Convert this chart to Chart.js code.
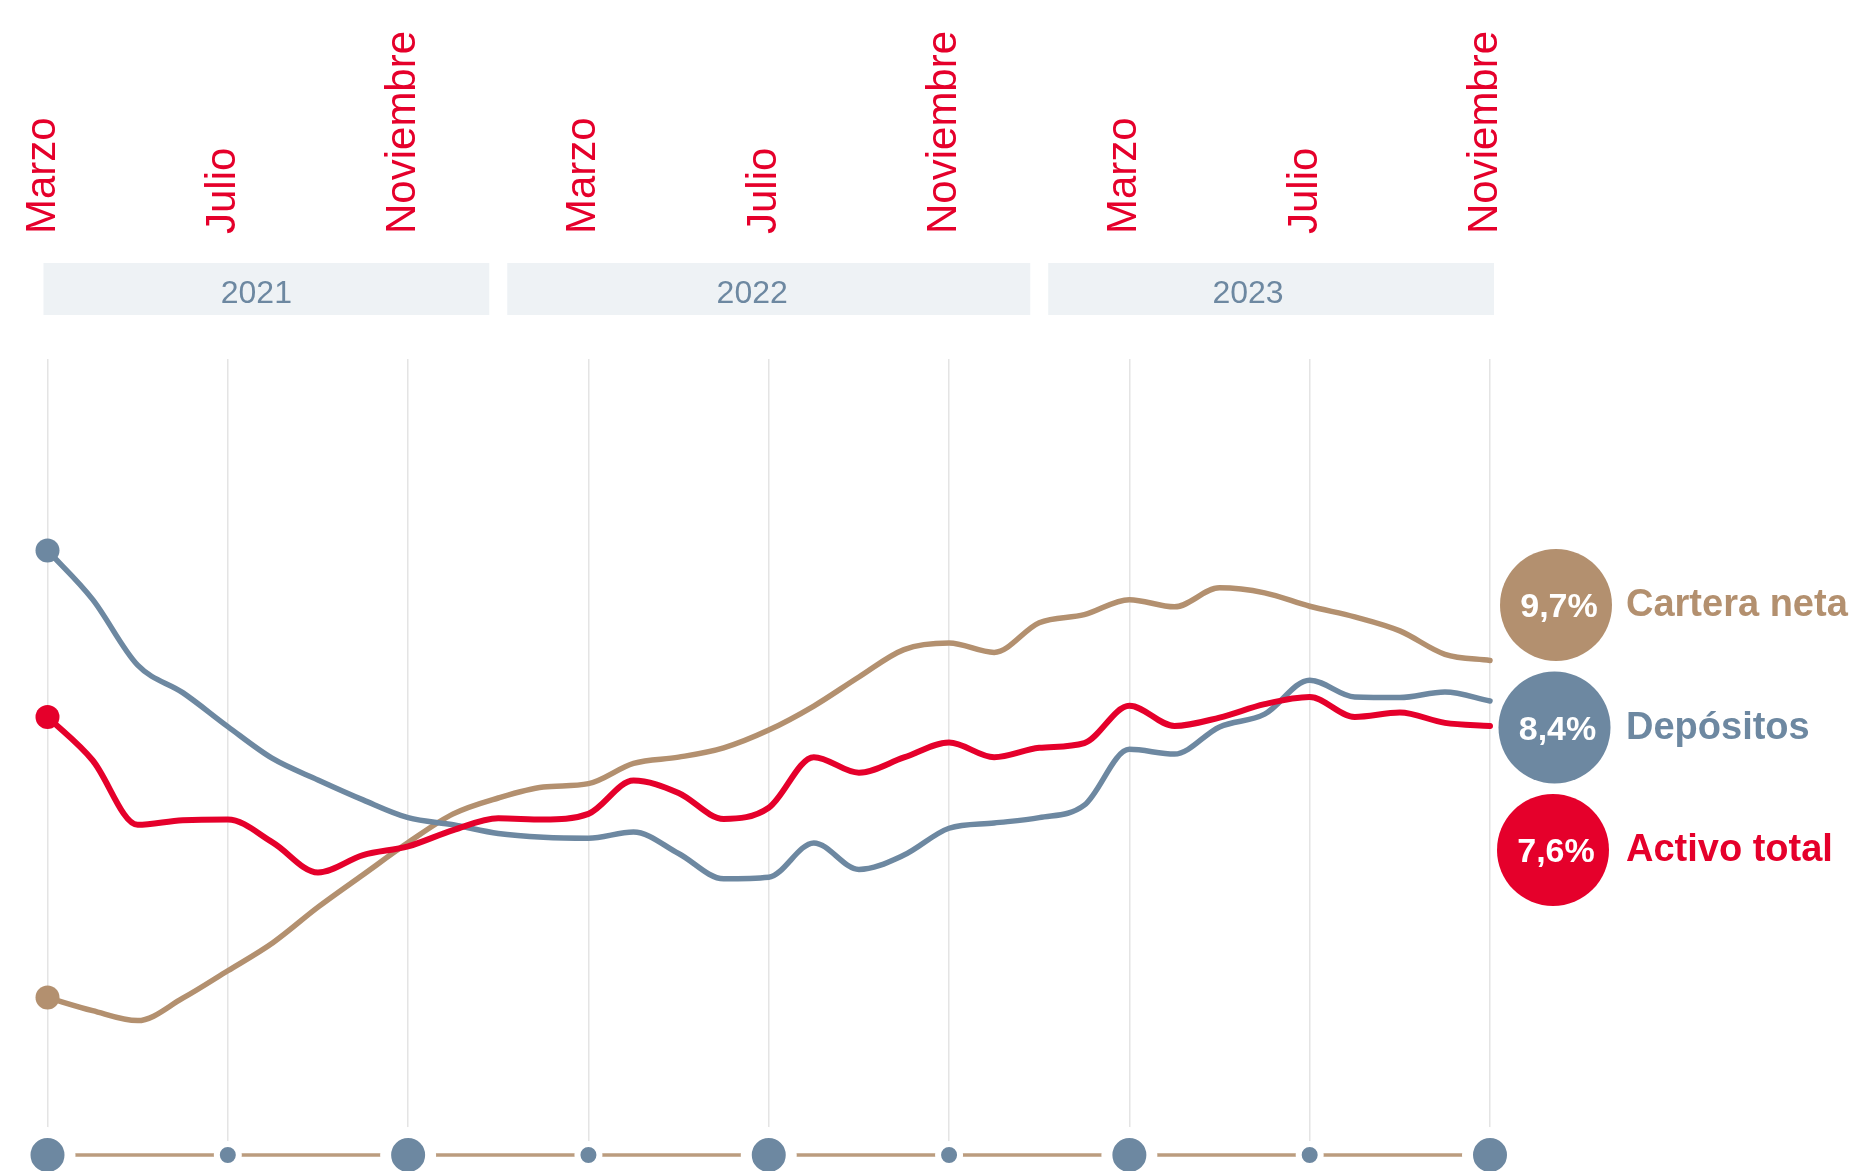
<!DOCTYPE html>
<html lang="es">
<head>
<meta charset="utf-8">
<title>Activo total, depósitos y cartera neta</title>
<script src="https://cdn.jsdelivr.net/npm/chart.js@4.4.1/dist/chart.umd.min.js"></script>
<style>
  html, body { margin: 0; padding: 0; background: #fff; }
  #wrap { position: relative; width: 1860px; height: 1171px; }
</style>
</head>
<body>
<div id="wrap"><canvas id="chart" width="1860" height="1171"></canvas></div>
<script>
// months from Marzo 2021 to Noviembre 2023
const months = ['Marzo', 'Abril', 'Mayo', 'Junio', 'Julio', 'Agosto', 'Septiembre', 'Octubre', 'Noviembre', 'Diciembre',
  'Enero', 'Febrero', 'Marzo', 'Abril', 'Mayo', 'Junio', 'Julio', 'Agosto', 'Septiembre', 'Octubre', 'Noviembre', 'Diciembre',
  'Enero', 'Febrero', 'Marzo', 'Abril', 'Mayo', 'Junio', 'Julio', 'Agosto', 'Septiembre', 'Octubre', 'Noviembre'];
const years = ['2021', '2022', '2023'];

// yearly growth, %
const activoTotal = [7.89, 6.50, 4.43, 4.58, 4.60, 3.86, 2.90, 3.46, 3.74, 4.26, 4.64, 4.60, 4.78, 5.85, 5.45, 4.62, 4.98,
  6.60, 6.10, 6.59, 7.07, 6.60, 6.90, 7.05, 8.25, 7.60, 7.87, 8.30, 8.53, 7.89, 8.03, 7.70, 7.60];
const depositos = [13.23, 11.66, 9.55, 8.67, 7.58, 6.55, 5.87, 5.23, 4.66, 4.43, 4.15, 4.03, 4.00, 4.20, 3.51, 2.70, 2.75,
  3.85, 3.00, 3.46, 4.32, 4.49, 4.66, 5.06, 6.85, 6.70, 7.57, 7.98, 9.07, 8.53, 8.51, 8.69, 8.40];
const carteraNeta = [-1.11, -1.53, -1.85, -1.13, -0.25, 0.65, 1.79, 2.83, 3.86, 4.78, 5.29, 5.64, 5.75, 6.40, 6.60, 6.90, 7.47,
  8.24, 9.17, 10.05, 10.26, 9.96, 10.91, 11.17, 11.65, 11.42, 12.03, 11.87, 11.44, 11.10, 10.65, 9.90, 9.70];

const seriesNames = ['Cartera neta', 'Depósitos', 'Activo total'];
const lastLabels = ['9,7%', '8,4%', '7,6%'];

const RED = '#e5002b';
const SLATE = '#6d88a1';
const TAN = '#b3906f';
const FONT = '"Liberation Sans", Arial, sans-serif';

// first month index of each year (a new year starts at Enero)
const yearStarts = [0];
months.forEach((m, i) => { if (m === 'Enero') yearStarts.push(i); });

const toPoints = arr => arr.map((v, i) => ({ x: i, y: v }));
const tickIdx = months.map((m, i) => i).filter(i => i % 4 === 0);

const decor = {
  id: 'decor',
  afterDraw(chart) {
    const ctx = chart.ctx;
    const xs = chart.scales.x;
    const area = chart.chartArea;

    // month labels on top
    ctx.save();
    ctx.fillStyle = RED;
    ctx.font = '42px ' + FONT;
    ctx.textAlign = 'left';
    ctx.textBaseline = 'alphabetic';
    tickIdx.forEach(i => {
      const x = xs.getPixelForValue(i);
      ctx.save();
      ctx.translate(x + 7, area.top - 125);
      ctx.rotate(-Math.PI / 2);
      ctx.fillText(months[i], 0, 0);
      ctx.restore();
    });
    ctx.restore();

    // year bands
    ctx.save();
    const gap = 9;
    years.forEach((yr, k) => {
      const first = yearStarts[k];
      const last = k + 1 < yearStarts.length ? yearStarts[k + 1] - 1 : months.length - 1;
      const left = k === 0 ? xs.getPixelForValue(first) - 4 : xs.getPixelForValue(first) + gap;
      const right = k + 1 < yearStarts.length ? xs.getPixelForValue(last + 1) - gap : xs.getPixelForValue(last) + 4;
      ctx.fillStyle = '#eef2f5';
      ctx.fillRect(left, area.top - 96, right - left, 52);
      ctx.fillStyle = SLATE;
      ctx.font = '32px ' + FONT;
      ctx.textAlign = 'center';
      ctx.textBaseline = 'alphabetic';
      // label sits over the middle of the year's months
      const mid = k + 1 < yearStarts.length ? (first + last) / 2 : (first + last - 1) / 2;
      ctx.fillText(yr, xs.getPixelForValue(mid) + 6, area.top - 56);
    });
    ctx.restore();

    // end labels on the right
    ctx.save();
    const colors = [TAN, SLATE, RED];
    seriesNames.forEach((name, k) => {
      const cx = area.right + 66 - k * 1.5;
      const cy = 605 + k * 122.5;
      ctx.beginPath();
      ctx.arc(cx, cy, 56, 0, Math.PI * 2);
      ctx.fillStyle = colors[k];
      ctx.fill();
      ctx.fillStyle = '#fff';
      ctx.font = 'bold 34px ' + FONT;
      ctx.textAlign = 'center';
      ctx.textBaseline = 'alphabetic';
      ctx.fillText(lastLabels[k], cx + 3, cy + 12);
      ctx.fillStyle = colors[k];
      ctx.font = 'bold 38px ' + FONT;
      ctx.textAlign = 'left';
      ctx.fillText(name, area.right + 136, cy + 11);
    });
    ctx.restore();
  }
};

const lineStyle = (color, width) => ({
  borderColor: color,
  backgroundColor: color,
  borderWidth: width,
  borderCapStyle: 'round',
  borderJoinStyle: 'round',
  cubicInterpolationMode: 'monotone',
  pointRadius: c => c.dataIndex === 0 ? 12 : 0,
  pointBorderWidth: 0,
  pointHoverRadius: 0,
  clip: false
});

new Chart(document.getElementById('chart'), {
  type: 'line',
  data: {
    datasets: [
      Object.assign({ label: 'Activo total', data: toPoints(activoTotal) }, lineStyle(RED, 6)),
      Object.assign({ label: 'Depósitos', data: toPoints(depositos) }, lineStyle(SLATE, 5.5)),
      Object.assign({ label: 'Cartera neta', data: toPoints(carteraNeta) }, lineStyle(TAN, 5.5)),
      {
        // timeline strip at the bottom
        label: 'timeline',
        yAxisID: 'yRow',
        data: tickIdx.map(i => ({ x: i, y: 0 })),
        borderColor: '#bb9c7e',
        borderWidth: 3.5,
        tension: 0,
        pointRadius: c => c.dataIndex % 2 === 0 ? 22.5 : 11,
        pointBorderWidth: c => c.dataIndex % 2 === 0 ? 11 : 6,
        pointBackgroundColor: SLATE,
        pointBorderColor: '#fff',
        pointHoverRadius: 0,
        clip: false
      }
    ]
  },
  options: {
    responsive: false,
    animation: false,
    events: [],
    layout: { autoPadding: false, padding: { top: 359, bottom: 16, left: 47.5, right: 370 } },
    plugins: { legend: { display: false }, tooltip: { enabled: false } },
    scales: {
      x: {
        type: 'linear',
        min: 0,
        max: months.length - 1,
        ticks: { display: false, stepSize: 4 },
        grid: { color: '#e4e4e4', lineWidth: 1.5, drawTicks: false },
        border: { display: false }
      },
      y: { display: false, min: -6.16, max: 19.37 },
      yRow: { display: false, min: 0, max: 1 }
    }
  },
  plugins: [decor]
});
</script>
</body>
</html>
